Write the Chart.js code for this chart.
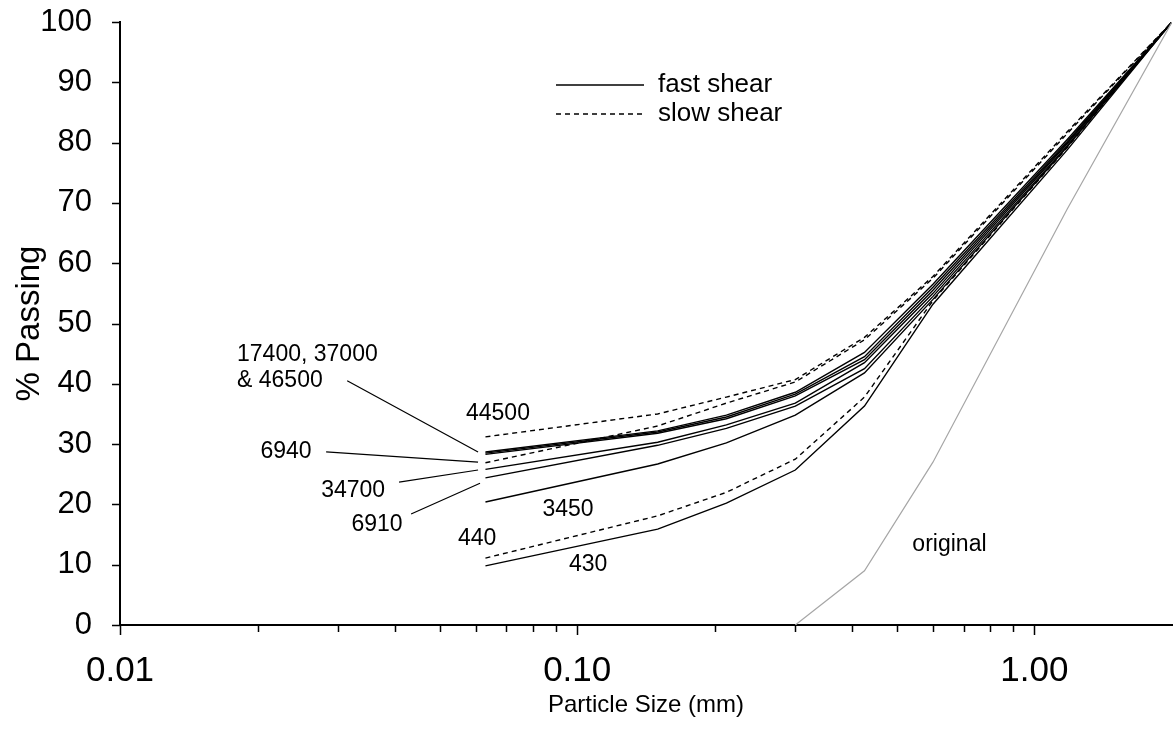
<!DOCTYPE html>
<html>
<head>
<meta charset="utf-8">
<script src="https://cdn.jsdelivr.net/npm/chart.js@4/dist/chart.umd.min.js"></script>
<style>
  body { margin: 0; background: #fff; }
  #wrap { width: 1175px; height: 730px; }
</style>
</head>
<body>
<div id="wrap"><canvas id="psd"></canvas></div>
<script>
// sieve sizes (mm)
const sizes = [0.063, 0.15, 0.212, 0.3, 0.425, 0.6, 1.18, 2.0];
const origSizes = [0.3, 0.425, 0.6, 1.18, 2.0];

// % passing for each test
const fast17400 = [28.7, 32.2, 34.8, 38.6, 45.2, 56.5, 80.5, 100];
const fast37000 = [28.5, 32.0, 34.5, 38.3, 44.5, 56.0, 80.2, 100];
const fast46500 = [28.3, 31.8, 34.2, 38.0, 44.0, 55.5, 80.0, 100];
const fast34700 = [25.8, 30.3, 33.2, 36.8, 43.5, 55.0, 79.8, 100];
const fast6910 = [24.4, 29.8, 32.6, 36.3, 42.5, 54.5, 79.5, 100];
const fast3450 = [20.4, 26.7, 30.2, 34.8, 41.8, 54.0, 79.3, 100];
const fast430 = [9.8, 15.9, 20.2, 25.7, 36.3, 53.2, 78.8, 100];
const slow44500 = [31.2, 35.0, 37.8, 40.7, 47.7, 57.8, 81.8, 100];
const slow6940 = [26.9, 33.0, 36.8, 40.3, 47.3, 57.5, 81.5, 100];
const slow440 = [11.1, 18.1, 22.0, 27.5, 37.8, 53.8, 79.2, 100];
const original = [0, 9.0, 27.0, 69.0, 100];

const yTicks = [0, 10, 20, 30, 40, 50, 60, 70, 80, 90, 100];
const xMajor = [0.01, 0.1, 1];
const xMinor = [0.02, 0.03, 0.04, 0.05, 0.06, 0.07, 0.08, 0.09,
                0.2, 0.3, 0.4, 0.5, 0.6, 0.7, 0.8, 0.9];

// labels on the plot: [text, x (mm), y (%), align]
const notes = [
  ['44500', 0.0671, 35.0, 'center'],
  ['17400, 37000', 0.01803, 44.9, 'left'],
  ['& 46500', 0.01803, 40.6, 'left'],
  ['6940', 0.02307, 28.7, 'center'],
  ['34700', 0.03235, 22.2, 'center'],
  ['6910', 0.0365, 16.7, 'center'],
  ['3450', 0.0955, 19.1, 'center'],
  ['440', 0.0604, 14.4, 'center'],
  ['430', 0.1057, 10.0, 'center'],
  ['original', 0.652, 13.4, 'center']
];
// leader lines: [x1, y1, x2, y2]
const leaders = [
  [0.0314, 40.5, 0.0607, 28.7],
  [0.02824, 28.7, 0.0607, 27.0],
  [0.04078, 23.7, 0.0607, 25.7],
  [0.04332, 18.4, 0.0613, 23.5]
];

const FONT = '"Liberation Sans", Arial, sans-serif';

function series(xs, ys, dashed, color, width) {
  return {
    data: xs.map((x, i) => ({ x: x, y: ys[i] })),
    showLine: true,
    borderColor: color || '#000',
    borderWidth: width || 1.4,
    borderDash: dashed ? [5, 4] : [],
    pointRadius: 0,
    fill: false
  };
}

const extras = {
  id: 'extras',
  afterDraw(chart) {
    const ctx = chart.ctx;
    const xs = chart.scales.x, ys = chart.scales.y;
    const a = chart.chartArea;
    ctx.save();
    ctx.strokeStyle = '#000';
    ctx.lineWidth = 1.5;
    // tick marks
    ctx.beginPath();
    xMajor.forEach(v => {
      const px = Math.round(xs.getPixelForValue(v)) + 0.5;
      ctx.moveTo(px, a.bottom); ctx.lineTo(px, a.bottom + 10);
    });
    xMinor.forEach(v => {
      const px = Math.round(xs.getPixelForValue(v)) + 0.5;
      ctx.moveTo(px, a.bottom); ctx.lineTo(px, a.bottom + 7);
    });
    yTicks.forEach(v => {
      const py = Math.round(ys.getPixelForValue(v)) + 0.5;
      ctx.moveTo(a.left, py); ctx.lineTo(a.left - 8, py);
    });
    ctx.stroke();

    // leader lines
    ctx.lineWidth = 1.2;
    ctx.beginPath();
    leaders.forEach(l => {
      ctx.moveTo(xs.getPixelForValue(l[0]), ys.getPixelForValue(l[1]));
      ctx.lineTo(xs.getPixelForValue(l[2]), ys.getPixelForValue(l[3]));
    });
    ctx.stroke();

    // notes
    ctx.fillStyle = '#000';
    ctx.font = '23px ' + FONT;
    ctx.textBaseline = 'middle';
    notes.forEach(n => {
      ctx.textAlign = n[3];
      ctx.fillText(n[0], xs.getPixelForValue(n[1]), ys.getPixelForValue(n[2]));
    });

    // legend
    const lx = a.left + 436, ly = a.top + 63;
    ctx.lineWidth = 1.4;
    ctx.beginPath();
    ctx.moveTo(lx, ly); ctx.lineTo(lx + 88, ly);
    ctx.stroke();
    ctx.setLineDash([5, 4]);
    ctx.beginPath();
    ctx.moveTo(lx, ly + 29); ctx.lineTo(lx + 88, ly + 29);
    ctx.stroke();
    ctx.setLineDash([]);
    ctx.font = '26px ' + FONT;
    ctx.textAlign = 'left';
    ctx.fillText('fast shear', lx + 102, ly);
    ctx.fillText('slow shear', lx + 102, ly + 29);
    ctx.restore();
  }
};

new Chart(document.getElementById('psd'), {
  type: 'scatter',
  data: {
    datasets: [
      series(origSizes, original, false, '#a6a6a6', 1.2),
      series(sizes, fast430, false),
      series(sizes, slow440, true),
      series(sizes, fast3450, false),
      series(sizes, fast6910, false),
      series(sizes, fast34700, false),
      series(sizes, slow6940, true),
      series(sizes, fast46500, false),
      series(sizes, fast37000, false),
      series(sizes, fast17400, false),
      series(sizes, slow44500, true)
    ]
  },
  options: {
    responsive: true,
    maintainAspectRatio: false,
    animation: false,
    layout: { padding: { top: 22, right: 3, left: 0, bottom: 0 } },
    plugins: { legend: { display: false }, tooltip: { enabled: false } },
    scales: {
      x: {
        type: 'logarithmic',
        min: 0.01,
        max: 2,
        afterBuildTicks: s => { s.ticks = xMajor.map(v => ({ value: v })); },
        afterFit: s => { s.height = 105; },
        grid: { display: false, drawTicks: false },
        border: { display: true, color: '#000', width: 2 },
        ticks: {
          color: '#000',
          padding: 25,
          maxRotation: 0,
          autoSkip: false,
          font: { family: FONT, size: 35 },
          callback: v => Number(v).toFixed(2)
        },
        title: {
          display: true,
          text: 'Particle Size (mm)',
          color: '#000',
          font: { family: FONT, size: 24 },
          padding: { top: 4, bottom: 10 }
        }
      },
      y: {
        min: 0,
        max: 100,
        afterBuildTicks: s => { s.ticks = yTicks.map(v => ({ value: v })); },
        afterFit: s => { s.width = 120; s.paddingTop = 0; s.paddingBottom = 0; },
        grid: { display: false, drawTicks: false },
        border: { display: true, color: '#000', width: 2 },
        ticks: {
          color: '#000',
          padding: 28,
          font: { family: FONT, size: 31 }
        },
        title: {
          display: true,
          text: '% Passing',
          color: '#000',
          font: { family: FONT, size: 33 },
          padding: { top: 10, bottom: 4 }
        }
      }
    }
  },
  plugins: [extras]
});
</script>
</body>
</html>
